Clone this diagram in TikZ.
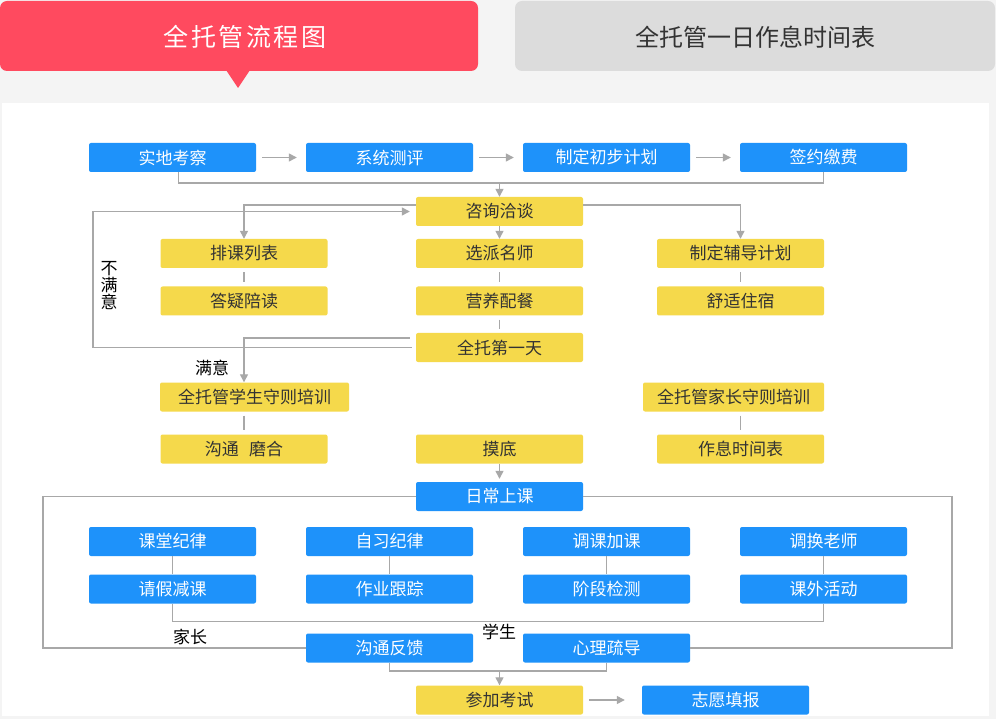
\documentclass[tikz,border=0pt]{standalone}
\usepackage{fontspec}
\setmainfont{Noto Sans CJK SC}
\usepackage{tikz}
\usepackage{xcolor}
\usetikzlibrary{calc, arrows.meta}

\definecolor{tabred}{HTML}{FF4A5F}
\definecolor{tabgray}{HTML}{DCDCDC}
\definecolor{bggray}{HTML}{F4F4F4}
\definecolor{boxblue}{HTML}{1E92FA}
\definecolor{boxyellow}{HTML}{F5D94B}
\definecolor{linegray}{HTML}{A8A8A8}
\definecolor{txtdark}{HTML}{333333}

\begin{document}
\begin{tikzpicture}[x=1pt, y=-1pt,
  bluebox/.style={fill=boxblue, text=white, rounded corners=2pt, minimum width=167pt,
    minimum height=29pt, inner sep=0pt, font=\fontsize{17}{17}\selectfont},
  yellowbox/.style={bluebox, fill=boxyellow, text=txtdark},
  conn/.style={draw=linegray, line width=1.3pt},
  arr/.style={conn, -{Triangle[length=8pt, width=8pt]}},
  lbl/.style={text=black, inner sep=0pt, font=\fontsize{17}{17}\selectfont}]
  % Background and panel
  \fill[bggray] (0,0) rectangle (996,719);
  \useasboundingbox (0,0) rectangle (996,719);
  \fill[white] (2,103) rectangle (989,716);
  % Tabs
  \fill[tabred, rounded corners=7pt] (0,1) rectangle (478,71);
  \fill[tabred] (226,70) -- (250,70) -- (238,88) -- cycle;
  \node[text=white, font=\fontsize{25}{25}\selectfont\addfontfeatures{LetterSpace=10}] (tabA) at (245,37) {全托管流程图};
  \fill[tabgray, rounded corners=7pt] (515,1) rectangle (995,71);
  \node[text=txtdark, font=\fontsize{24}{24}\selectfont] (tabB) at (755,37) {全托管一日作息时间表};

  % First row
  \foreach \n/\x/\t in {kc/172.5/实地考察, cp/389.5/系统测评, jh/606.5/制定初步计划, jf/823.5/签约缴费}
    \node[bluebox] (\n) at (\x,157.5) {\t};
  \foreach \a/\b in {kc/cp, cp/jh, jh/jf}
    \draw[arr, shorten <=6pt, shorten >=9pt] (\a) -- (\b);

  % Consultation block
  \node[yellowbox] (zx) at (499.5,211.5) {咨询洽谈};
  \node[yellowbox] (pk) at (244,253.5) {排课列表};
  \node[yellowbox] (xp) at (499.5,253.5) {选派名师};
  \node[yellowbox] (fd) at (740.5,253.5) {制定辅导计划};
  \node[yellowbox] (dy) at (244,301) {答疑陪读};
  \node[yellowbox] (yc) at (499.5,301) {营养配餐};
  \node[yellowbox] (ss) at (740.5,301) {舒适住宿};
  \node[yellowbox] (dt) at (499.5,347.5) {全托第一天};

  \coordinate (j1) at (499.5,183);
  \draw[conn] ([xshift=6pt]kc.south) |- (j1) -| (jf.south);
  \draw[arr] (j1) -- (zx.north);
  \draw[arr] (zx) -- (xp);
  \draw[arr] ([yshift=6.5pt]zx.west) -| (pk.north);
  \draw[arr] ([yshift=6.5pt]zx.east) -| (fd.north);
  \foreach \a/\b in {pk/dy, xp/yc, fd/ss, yc/dt}
    \draw[conn, shorten <=4pt, shorten >=4pt] (\a) -- (\b);

  % Not satisfied: back to consultation
  \coordinate (lb) at (93,347.5);
  \coordinate (lt) at (93,211.5);
  \draw[arr, shorten <=4pt, shorten >=6pt] (dt.west) -- (lb) -- (lt) -- (zx.west);
  \node[lbl, align=center] (bmy) at (109,286) {不\\满\\意};

  % Satisfied
  \node[yellowbox, minimum width=189pt] (xs) at (254.5,397) {全托管学生守则培训};
  \node[yellowbox] (mh) at (244,449) {沟通\hspace{0.6em}磨合};
  \node[yellowbox] (md) at (499.5,449) {摸底};
  \node[yellowbox, minimum width=181pt] (jz) at (733.5,397) {全托管家长守则培训};
  \node[yellowbox] (zs) at (740.5,449) {作息时间表};
  \draw[arr, shorten <=6pt] ([yshift=9.5pt]dt.west) -| (xs.north -| mh.north);
  \node[lbl] (my) at (212,368) {满意};
  \draw[conn, shorten <=4pt, shorten >=4pt] (xs.south -| mh.north) -- (mh.north);
  \draw[conn, shorten <=4pt, shorten >=4pt] (jz.south -| zs.north) -- (zs.north);

  % Daily classes
  \node[bluebox] (rc) at (499.5,496.5) {日常上课};
  \draw[arr, shorten >=3pt] (md) -- (rc);
  \foreach \n/\x/\t in {kt/172.5/课堂纪律, zj/389.5/自习纪律, tk/606.5/调课加课, th/823.5/调换老师}
    \node[bluebox] (\n) at (\x,541.5) {\t};
  \foreach \n/\x/\t in {qj/172.5/请假减课, zy/389.5/作业跟踪, jd/606.5/阶段检测, kw/823.5/课外活动}
    \node[bluebox] (\n) at (\x,589) {\t};
  \foreach \a/\b in {kt/qj, zj/zy, tk/jd, th/kw}
    \draw[conn] (\a) -- (\b);
  \draw[conn] (qj.south) -- ++(0,18) -| (kw.south);

  % Feedback
  \node[bluebox] (gf) at (389.5,648) {沟通反馈};
  \node[bluebox] (xl) at (606.5,648) {心理疏导};
  \coordinate (bl) at (43,648);
  \coordinate (br) at (952,648);
  \draw[conn] (rc.west) -| (bl) -- (gf.west);
  \draw[conn] (rc.east) -| (br) -- (xl.east);
  \node[lbl] (jzl) at (190,637) {家长};
  \node[lbl] (xsl) at (499,632) {学生};

  % Exam
  \node[yellowbox] (ck) at (499.5,700) {参加考试};
  \node[bluebox] (zyt) at (725.5,700) {志愿填报};
  \coordinate (j3) at (499.5,671);
  \draw[conn] (gf.south) |- (j3) -| (xl.south);
  \draw[arr] (j3) -- (ck.north);
  \draw[arr, shorten <=6pt, shorten >=17pt] (ck) -- (zyt);
\end{tikzpicture}
\end{document}
